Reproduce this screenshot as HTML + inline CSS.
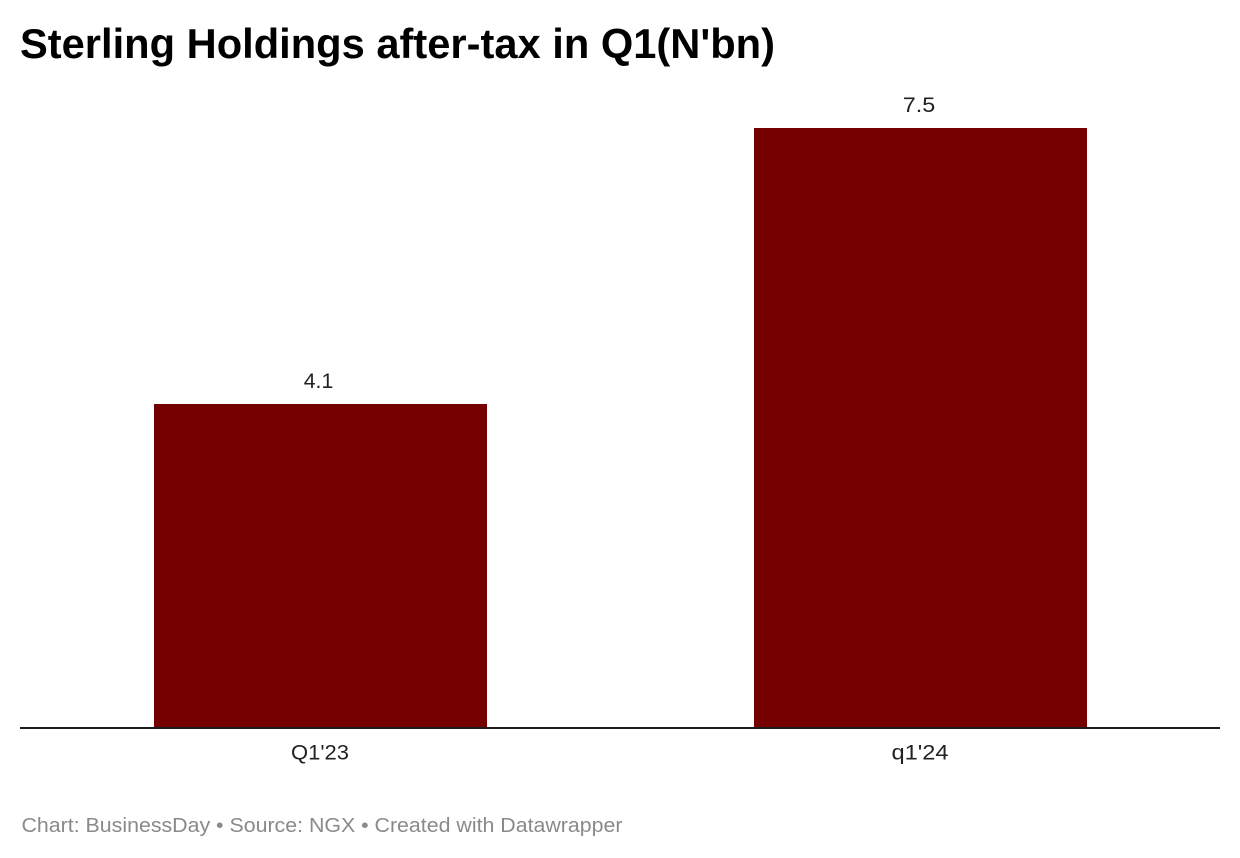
<!DOCTYPE html>
<html>
<head>
<meta charset="utf-8">
<style>
  html, body { margin: 0; padding: 0; background: #ffffff; }
  body { width: 1240px; height: 858px; overflow: hidden; }
  svg { display: block; }
  text { font-family: "Liberation Sans", Arial, sans-serif; }
</style>
</head>
<body>
<svg width="1240" height="858" viewBox="0 0 1240 858" xmlns="http://www.w3.org/2000/svg">
  <rect x="0" y="0" width="1240" height="858" fill="#ffffff"/>

  <!-- Title -->
  <text x="20" y="58" font-size="41.5" font-weight="bold" fill="#000000" textLength="755" lengthAdjust="spacingAndGlyphs">Sterling Holdings after-tax in Q1(N'bn)</text>

  <!-- Bars -->
  <rect x="154" y="404" width="333" height="324" fill="#750000"/>
  <rect x="754" y="128" width="333" height="600" fill="#750000"/>

  <!-- Value labels -->
  <text x="318.5" y="388" font-size="21" fill="#222222" text-anchor="middle" textLength="29.5" lengthAdjust="spacingAndGlyphs">4.1</text>
  <text x="919" y="112" font-size="21" fill="#222222" text-anchor="middle" textLength="32.5" lengthAdjust="spacingAndGlyphs">7.5</text>

  <!-- Axis line -->
  <rect x="20" y="727" width="1200" height="2" fill="#1d1d1d"/>

  <!-- Category labels -->
  <text x="320" y="759.5" font-size="21" fill="#222222" text-anchor="middle" textLength="58" lengthAdjust="spacingAndGlyphs">Q1'23</text>
  <text x="920" y="759.5" font-size="21" fill="#222222" text-anchor="middle" textLength="57" lengthAdjust="spacingAndGlyphs">q1'24</text>

  <!-- Footer -->
  <text x="21.5" y="832" font-size="20" fill="#8a8a8a" textLength="601" lengthAdjust="spacingAndGlyphs">Chart: BusinessDay • Source: NGX • Created with Datawrapper</text>
</svg>
</body>
</html>
